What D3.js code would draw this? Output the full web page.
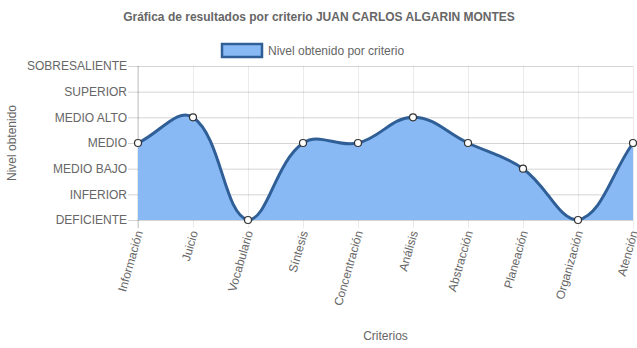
<!DOCTYPE html>
<html>
<head>
<meta charset="utf-8">
<script src="https://cdn.jsdelivr.net/npm/d3@7"></script>
<style>
  body { margin: 0; background: #fff; }
  svg { display: block; font-family: "Liberation Sans", Arial, sans-serif; }
</style>
</head>
<body>
<svg id="chart" width="637" height="348"></svg>
<script>
// data
var criterios = ["Información", "Juicio", "Vocabulario", "Síntesis", "Concentración",
                 "Análisis", "Abstracción", "Planeación", "Organización", "Atención"];
var niveles = ["DEFICIENTE", "INFERIOR", "MEDIO BAJO", "MEDIO", "MEDIO ALTO", "SUPERIOR", "SOBRESALIENTE"];
var valores = [3, 4, 0, 3, 3, 4, 3, 2, 0, 3];

var svg = d3.select("#chart");
var margin = { left: 138, right: 4, top: 66, bottom: 128 };
var width = 637, height = 348;

var x = d3.scalePoint().domain(criterios).range([margin.left, width - margin.right]);
var y = d3.scaleLinear().domain([0, niveles.length - 1]).range([height - margin.bottom, margin.top]);

var textColor = "#666";
var lineColor = "#2f5f96";
var fillColor = "#88b9f4";

// title
svg.append("text")
   .attr("x", 319).attr("y", 21)
   .attr("text-anchor", "middle")
   .attr("font-size", 12).attr("font-weight", "bold")
   .attr("fill", textColor)
   .text("Gráfica de resultados por criterio JUAN CARLOS ALGARIN MONTES");

// legend
svg.append("rect")
   .attr("x", 222).attr("y", 44).attr("width", 40).attr("height", 13)
   .attr("fill", fillColor).attr("stroke", lineColor).attr("stroke-width", 2.5);
svg.append("text")
   .attr("x", 268).attr("y", 55)
   .attr("font-size", 12).attr("fill", textColor)
   .text("Nivel obtenido por criterio");

// grid: horizontal
var yAxis = d3.axisLeft(y)
   .tickValues(d3.range(niveles.length))
   .tickFormat(function(d) { return niveles[d]; })
   .tickSize(-(width - margin.right - margin.left + 10))
   .tickPadding(1);
var gy = svg.append("g")
   .attr("transform", "translate(" + (margin.left - 10) + ",0)")
   .call(yAxis);
gy.select(".domain").remove();
gy.selectAll("line").attr("stroke", "rgba(0,0,0,0.17)").attr("stroke-width", 1);
gy.selectAll("text").attr("font-size", 12).attr("fill", textColor)
   .attr("font-family", "Liberation Sans, Arial, sans-serif");

// grid: vertical
var xAxis = d3.axisBottom(x)
   .tickSize(-(height - margin.bottom - margin.top) - 8)
   .tickFormat("");
var gx = svg.append("g")
   .attr("transform", "translate(0," + (height - margin.bottom + 8) + ")")
   .call(xAxis);
gx.select(".domain").remove();
gx.selectAll("line").attr("stroke", "rgba(0,0,0,0.08)").attr("stroke-width", 1);

// left axis line
svg.append("line")
   .attr("x1", margin.left).attr("x2", margin.left)
   .attr("y1", margin.top).attr("y2", height - margin.bottom + 8)
   .attr("stroke", "rgba(0,0,0,0.2)");

// x labels rotated
svg.append("g").selectAll("text")
   .data(criterios)
   .enter()
   .append("text")
   .attr("transform", function(d) { return "translate(" + (x(d) + 1) + "," + (height - margin.bottom + 11) + ") rotate(-74)"; })
   .attr("text-anchor", "end")
   .attr("dy", "0.35em")
   .attr("font-size", 12).attr("fill", textColor)
   .text(function(d) { return d; });

// axis titles
svg.append("text")
   .attr("transform", "translate(16," + y(3) + ") rotate(-90)")
   .attr("text-anchor", "middle")
   .attr("font-size", 12).attr("fill", textColor)
   .text("Nivel obtenido");
svg.append("text")
   .attr("x", (margin.left + width - margin.right) / 2).attr("y", 340)
   .attr("text-anchor", "middle")
   .attr("font-size", 12).attr("fill", textColor)
   .text("Criterios");

// chart.js-like spline (tension 0.4, capped to chart area)
var pts = valores.map(function(v, i) { return { x: x(criterios[i]), y: y(v) }; });
var tension = 0.4;
var areaTop = margin.top, areaBottom = height - margin.bottom;
var areaLeft = margin.left, areaRight = width - margin.right;
pts.forEach(function(p, i) {
  var p0 = pts[i - 1] || p, p2 = pts[i + 1] || p;
  var d01 = Math.hypot(p.x - p0.x, p.y - p0.y);
  var d12 = Math.hypot(p2.x - p.x, p2.y - p.y);
  var s01 = d01 / (d01 + d12), s12 = d12 / (d01 + d12);
  if (isNaN(s01)) s01 = 0;
  if (isNaN(s12)) s12 = 0;
  var fa = tension * s01, fb = tension * s12;
  p.cpPrevX = p.x - fa * (p2.x - p0.x);
  p.cpPrevY = p.y - fa * (p2.y - p0.y);
  p.cpNextX = p.x + fb * (p2.x - p0.x);
  p.cpNextY = p.y + fb * (p2.y - p0.y);
  p.cpPrevX = Math.max(areaLeft, Math.min(areaRight, p.cpPrevX));
  p.cpNextX = Math.max(areaLeft, Math.min(areaRight, p.cpNextX));
  p.cpPrevY = Math.max(areaTop, Math.min(areaBottom, p.cpPrevY));
  p.cpNextY = Math.max(areaTop, Math.min(areaBottom, p.cpNextY));
});

function curvePath(close) {
  var path = d3.path();
  path.moveTo(pts[0].x, pts[0].y);
  for (var i = 1; i < pts.length; i++) {
    var a = pts[i - 1], b = pts[i];
    path.bezierCurveTo(a.cpNextX, a.cpNextY, b.cpPrevX, b.cpPrevY, b.x, b.y);
  }
  if (close) {
    path.lineTo(pts[pts.length - 1].x, areaBottom);
    path.lineTo(pts[0].x, areaBottom);
    path.closePath();
  }
  return path.toString();
}

svg.append("path")
   .attr("d", curvePath(true))
   .attr("fill", fillColor);
svg.append("path")
   .attr("d", curvePath(false))
   .attr("fill", "none")
   .attr("stroke", lineColor)
   .attr("stroke-width", 3);

// points
svg.selectAll(".punto")
   .data(pts)
   .enter()
   .append("circle")
   .attr("class", "punto")
   .attr("cx", function(d) { return d.x; })
   .attr("cy", function(d) { return d.y; })
   .attr("r", 3.5)
   .attr("fill", "#fff")
   .attr("stroke", "#333")
   .attr("stroke-width", 1.2);
</script>
</body>
</html>
